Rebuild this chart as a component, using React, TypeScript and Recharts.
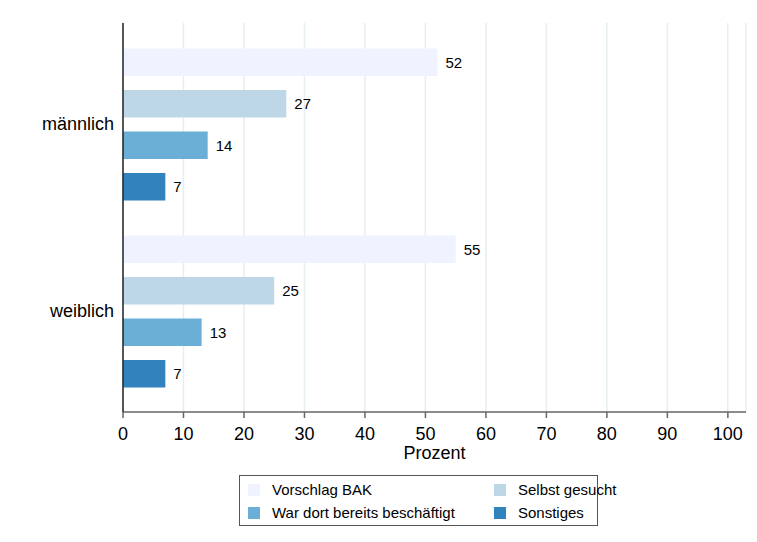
import React from "react";
import { BarChart, Bar, XAxis, YAxis, CartesianGrid, LabelList, Label } from "recharts";

const categories = ["männlich", "weiblich"];
const seriesNames = ["Vorschlag BAK", "Selbst gesucht", "War dort bereits beschäftigt", "Sonstiges"];
const vorschlag = [52, 55];
const selbst = [27, 25];
const beschaeftigt = [14, 13];
const sonstiges = [7, 7];
const xTicks = [0, 10, 20, 30, 40, 50, 60, 70, 80, 90, 100];

const COLORS = ["#eff3ff", "#bdd7e7", "#6baed6", "#3182bd"];
const FONT = '"Liberation Sans", Arial, sans-serif';

const data = categories.map((c, i) => ({
  name: c,
  s0: vorschlag[i],
  s1: selbst[i],
  s2: beschaeftigt[i],
  s3: sonstiges[i],
}));

export default function App() {
  return (
    <div style={{ position: "absolute", left: 0, top: 0, width: 757, height: 542, background: "#fff", fontFamily: FONT }}>
      <BarChart
        width={757}
        height={542}
        data={data}
        layout="vertical"
        margin={{ top: 23, right: 11, bottom: 0, left: 0 }}
        barSize={27.5}
        barGap={14}
      >
        <CartesianGrid vertical horizontal={false} stroke="#e6eef2" strokeWidth={1.5} />
        <XAxis
          type="number"
          domain={[0, 103]}
          ticks={xTicks}
          allowDataOverflow
          stroke="#666"
          strokeWidth={1.5}
          tickSize={6}
          tickMargin={9}
          tick={{ fill: "#000", fontSize: 18, fontFamily: FONT }}
          height={130}
        >
          <Label value="Prozent" position="insideTop" offset={34} fill="#000" fontSize={18} fontFamily={FONT} />
        </XAxis>
        <YAxis
          type="category"
          dataKey="name"
          width={123}
          tickLine={false}
          stroke="#222"
          strokeWidth={1.5}
          tickMargin={3}
          padding={{ top: 7.5, bottom: 7.5 }}
          tick={{ fill: "#000", fontSize: 18, fontFamily: FONT }}
        />
        {seriesNames.map((n, i) => (
          <Bar key={n} dataKey={`s${i}`} name={n} fill={COLORS[i]} isAnimationActive={false}>
            <LabelList dataKey={`s${i}`} position="right" offset={8} fill="#000" fontSize={15} fontFamily={FONT} />
          </Bar>
        ))}
      </BarChart>
      <div
        style={{
          position: "absolute",
          left: 239,
          top: 475,
          width: 359,
          height: 51,
          border: "1px solid #555",
          boxSizing: "border-box",
          display: "grid",
          gridTemplateColumns: "246px 1fr",
          gridTemplateRows: "23px 23px",
          paddingTop: 2,
          fontSize: 15,
          color: "#000",
          whiteSpace: "nowrap",
        }}
      >
        {seriesNames.map((n, i) => (
          <div key={n} style={{ display: "flex", alignItems: "center", paddingLeft: 8 }}>
            <span style={{ display: "inline-block", width: 12, height: 12, background: COLORS[i], marginRight: 12, flexShrink: 0 }} />
            <span>{n}</span>
          </div>
        ))}
      </div>
    </div>
  );
}
